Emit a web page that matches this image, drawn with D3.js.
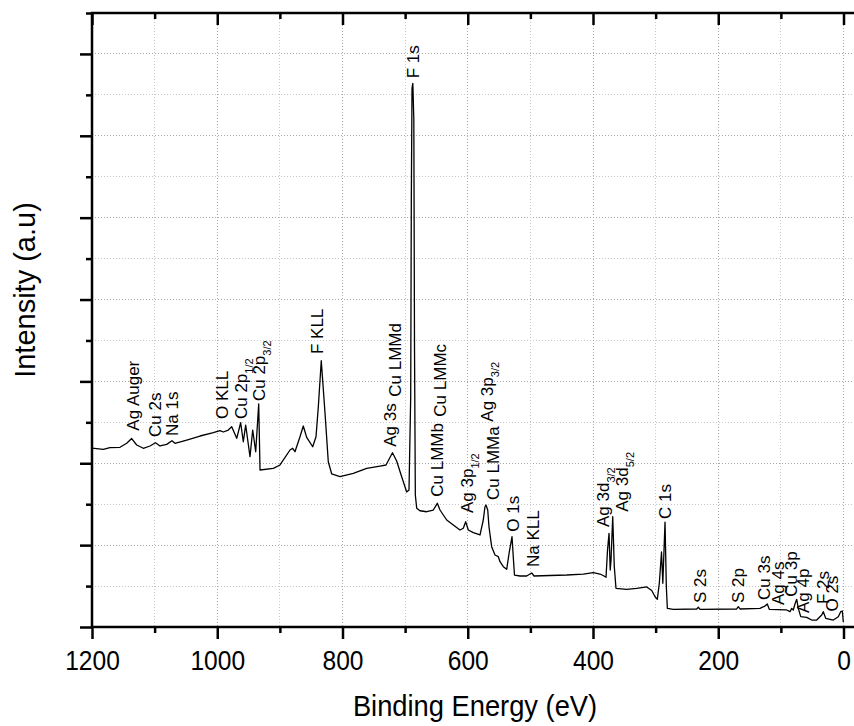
<!DOCTYPE html>
<html><head><meta charset="utf-8">
<script src="https://cdn.jsdelivr.net/npm/d3@7"></script>
<style>body{margin:0;background:#fff}svg{display:block}</style>
</head><body><svg id="chart" width="854" height="726"></svg>
<script>
// ---- data ----
const bindingEnergy = [1200,1182,1171.3,1155.3,1144.6,1136.6,1128.6,1118.1,1107.4,1098.6,1091.4,1080.7,1072.3,1067.5,1048.8,1027.5,1006.3,995.6,990.3,982.4,976.9,968.9,962.6,958.4,954.6,947.7,943.4,938.6,933.8,931.7,910.5,899.8,883.8,879.5,875.9,867.9,862.6,857.2,847.6,842.3,838.6,833.9,827.9,822.7,817.2,804.0,782.8,761.4,740.1,730.5,720.2,713.5,705.5,697.5,693.8,691.1,690.1,689.0,687.7,686.1,685.0,683.7,681.5,676.3,665.5,655.0,648.6,644.3,639.0,633.6,623.1,612.4,607.1,603.3,599.1,591.1,580.4,575.2,572.5,570.9,568.1,566.1,561.8,556.5,551.2,548.5,543.2,537.8,533.7,529.3,527.0,525.4,516.6,505.9,497.9,494.2,468.7,442.0,415.5,399.5,388.8,382.4,379.2,376.8,374.4,372.5,371.2,368.5,366.0,363.3,346.2,330.2,314.2,306.2,300.9,297.3,294.1,290.6,288.5,285.0,282.9,281.3,271.8,234.4,231.8,229.1,170.5,168.0,165.3,133.4,125.4,121.7,118.5,90.7,85.4,82.7,80.2,77.5,74.7,72.2,68.3,58.8,50.8,42.8,34.8,32.3,28.4,16.3,8.3,4.5,1.9,0.3];
const intensity = [2.186,2.170,2.190,2.195,2.244,2.302,2.223,2.183,2.211,2.251,2.211,2.231,2.275,2.244,2.284,2.333,2.373,2.398,2.382,2.406,2.446,2.305,2.495,2.263,2.467,2.080,2.406,2.141,2.724,1.918,1.938,1.979,2.162,2.183,2.141,2.324,2.455,2.317,2.202,2.324,2.691,3.253,2.610,2.019,1.869,1.836,1.877,1.938,1.966,1.979,2.129,2.028,1.836,1.649,1.673,2.813,5.215,6.583,6.641,6.192,3.383,1.612,1.450,1.420,1.408,1.429,1.511,1.429,1.368,1.307,1.246,1.185,1.206,1.286,1.185,1.152,1.124,1.307,1.469,1.490,1.429,1.225,0.981,0.879,0.859,0.798,0.737,0.705,0.916,1.103,0.818,0.635,0.623,0.623,0.660,0.623,0.629,0.635,0.647,0.663,0.647,0.623,0.607,0.940,1.144,0.696,0.818,1.347,0.737,0.473,0.460,0.473,0.489,0.446,0.370,0.338,0.534,0.916,0.534,1.282,0.492,0.228,0.216,0.220,0.241,0.216,0.220,0.248,0.220,0.228,0.256,0.281,0.216,0.208,0.187,0.228,0.208,0.281,0.338,0.228,0.126,0.118,0.085,0.085,0.147,0.187,0.106,0.085,0.126,0.187,0.195,0.061];

const xMajorTicks = [1200,1000,800,600,400,200,0];
const xMinorTicks = [1100,900,700,500,300,100];
const xTickLabels = ["1200","1000","800","600","400","200","0"];
const yMajorTicks = [0,1,2,3,4,5,6,7];
const yMinorTicks = [0.5,1.5,2.5,3.5,4.5,5.5,6.5,7.5];

const peakNames  = ["Ag Auger","Cu 2s","Na 1s","O KLL","Cu 2p","Cu 2p","F KLL","F 1s","Ag 3s","Cu LMMd","Cu LMMb","Cu LMMc","Ag 3p","Cu LMMa","Ag 3p","O 1s","Na KLL","Ag 3d","Ag 3d","C 1s","S 2s","S 2p","Cu 3s","Ag 4s","Cu 3p","Ag 4p","F 2s","O 2s"];
const peakSubs   = ["","","","","1/2","3/2","","","","","","","1/2","","3/2","","","3/2","5/2","","","","","","","","",""];
const peakEnergy = [1125.4,1090.3,1062.7,982.8,952.9,923.7,831.1,677.8,713.8,705.8,639.5,634.7,591.6,550.1,558.9,518.6,486.2,374.5,344.1,275.4,219.6,158.9,116.6,95.0,74.3,54.3,22.4,8.3];
const peakLevel  = [2.398,2.321,2.333,2.540,2.540,2.760,3.334,6.702,2.202,2.813,1.591,2.569,1.392,1.551,2.508,1.164,0.733,1.221,1.408,1.319,0.293,0.293,0.330,0.269,0.370,0.171,0.281,0.189];

const xTitle = "Binding Energy (eV)";
const yTitle = "Intensity (a.u)";

// ---- drawing ----
const svg = d3.select("#chart");
const FONT = "'Liberation Sans', Arial, sans-serif";
const x = d3.scaleLinear().domain([1200, 0]).range([92, 843.5]);
const y = d3.scaleLinear().domain([0, 7.5]).range([627, 13]);
const rightEdge = 854;

// grid
const grid = svg.append("g").attr("shape-rendering", "crispEdges");
grid.selectAll("line.h").data(yMajorTicks.concat(yMinorTicks).filter(d => d > 0 && d < 7.5)).join("line")
  .attr("x1", x(1200)).attr("x2", rightEdge)
  .attr("y1", d => y(d)).attr("y2", d => y(d))
  .attr("stroke", d => d % 1 === 0 ? "#a8a8a8" : "#c8c8c8")
  .attr("stroke-dasharray", "1,2");
grid.selectAll("line.v").data(xMajorTicks.concat(xMinorTicks).filter(d => d < 1200)).join("line")
  .attr("y1", y(7.5)).attr("y2", y(0))
  .attr("x1", d => x(d)).attr("x2", d => x(d))
  .attr("stroke", d => d % 200 === 0 ? "#a8a8a8" : "#c8c8c8")
  .attr("stroke-dasharray", "1,2");

// spectrum
const pts = bindingEnergy.map((e, i) => [e, intensity[i]]);
svg.append("path").datum(pts)
  .attr("fill", "none").attr("stroke", "#000").attr("stroke-width", 1.3)
  .attr("stroke-linejoin", "round")
  .attr("d", d3.line().x(d => x(d[0])).y(d => y(d[1])));

// axes
function styleAxis(g) {
  g.select(".domain").remove();
  g.selectAll(".tick line").attr("stroke", "#000").attr("stroke-width", 2.5);
}
const gB = svg.append("g").attr("transform", `translate(0,${y(0)})`)
  .call(d3.axisBottom(x).tickValues(xMajorTicks).tickSize(12).tickFormat((d, i) => xTickLabels[i]))
  .call(styleAxis);
gB.selectAll("text").attr("y", 43).attr("dy", 0)
  .attr("font-family", FONT).attr("font-size", 27).attr("fill", "#000")
  .attr("transform", "scale(0.91,1)");
svg.append("g").attr("transform", `translate(0,${y(0)})`)
  .call(d3.axisBottom(x).tickValues(xMinorTicks).tickSize(6).tickFormat(""))
  .call(styleAxis);
svg.append("g").attr("transform", `translate(0,${y(7.5)})`)
  .call(d3.axisTop(x).tickValues(xMajorTicks).tickSize(-12).tickFormat(""))
  .call(styleAxis);
svg.append("g").attr("transform", `translate(0,${y(7.5)})`)
  .call(d3.axisTop(x).tickValues(xMinorTicks).tickSize(-6).tickFormat(""))
  .call(styleAxis);
svg.append("g").attr("transform", `translate(${x(1200)},0)`)
  .call(d3.axisLeft(y).tickValues(yMajorTicks).tickSize(12).tickFormat(""))
  .call(styleAxis);
svg.append("g").attr("transform", `translate(${x(1200)},0)`)
  .call(d3.axisLeft(y).tickValues(yMinorTicks).tickSize(6).tickFormat(""))
  .call(styleAxis);

const axLines = svg.append("g").attr("stroke", "#000").attr("stroke-width", 2.5);
axLines.append("line").attr("x1", x(1200)).attr("x2", x(1200)).attr("y1", y(7.5)).attr("y2", y(0));
axLines.append("line").attr("x1", x(1200) - 1.25).attr("x2", rightEdge).attr("y1", y(0)).attr("y2", y(0));
axLines.append("line").attr("x1", x(1200) - 1.25).attr("x2", rightEdge).attr("y1", y(7.5)).attr("y2", y(7.5));

// peak labels
const lg = svg.append("g").attr("font-family", FONT).attr("font-size", 17).attr("fill", "#000");
peakNames.forEach((n, i) => {
  const t = lg.append("text")
    .attr("transform", `translate(${x(peakEnergy[i])},${y(peakLevel[i])}) rotate(-90)`);
  t.append("tspan").text(n);
  if (peakSubs[i]) t.append("tspan").attr("font-size", 11).attr("dy", 6).text(peakSubs[i]);
});

// titles
svg.append("text").attr("transform", "translate(475,716) scale(0.91,1)")
  .attr("text-anchor", "middle").attr("font-family", FONT).attr("font-size", 30).text(xTitle);
svg.append("text").attr("transform", "translate(35,290) rotate(-90)")
  .attr("text-anchor", "middle").attr("font-family", FONT).attr("font-size", 29).text(yTitle);
</script>
</body></html>
